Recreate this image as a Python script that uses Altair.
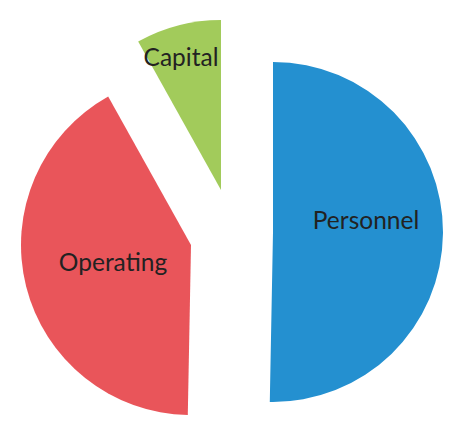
import altair as alt
import pandas as pd

categories = ["Personnel", "Operating", "Capital"]
shares = [50.3, 41.6, 8.1]
colors = ["#2490D0", "#E9555A", "#A2CB5B"]

df = pd.DataFrame({"category": categories, "share": shares, "order": [0, 1, 2]})
total = sum(shares)

# layout: exploded slice centres and label anchors (chart pixel space)
centers = {"Personnel": (265, 224), "Operating": (183, 237), "Capital": (213, 182)}
labels = {"Personnel": (358, 221), "Operating": (105, 263), "Capital": (173, 58)}
R = 170

base = (
    alt.Chart(df)
    .transform_window(cum="sum(share)", sort=[alt.SortField("order")])
    .transform_calculate(start="datum.cum - datum.share")
)

color = alt.Color("category:N", scale=alt.Scale(domain=categories, range=colors), legend=None)

layers = []
for cat in categories:
    cx, cy = centers[cat]
    arc = (
        base.transform_filter(alt.datum.category == cat)
        .mark_arc(x=cx, y=cy, outerRadius=R, innerRadius=0)
        .encode(
            theta=alt.Theta("start:Q", scale=alt.Scale(domain=[0, total])),
            theta2="cum:Q",
            color=color,
        )
    )
    layers.append(arc)

for cat in categories:
    lx, ly = labels[cat]
    txt = (
        base.transform_filter(alt.datum.category == cat)
        .mark_text(x=lx, y=ly, font="Lato", fontSize=24.5, color="#222222",
                   align="center", baseline="alphabetic")
        .encode(text="category:N")
    )
    layers.append(txt)

chart = (
    alt.layer(*layers)
    .properties(width=436, height=409, padding=0, autosize="none")
    .configure_view(stroke=None)
)

chart.save("out.html", embed_options={"renderer": "svg", "actions": False})
